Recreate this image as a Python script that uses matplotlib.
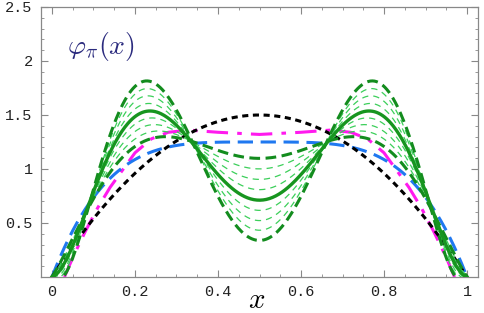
import numpy as np
import matplotlib
matplotlib.use("Agg")
import matplotlib.pyplot as plt
from matplotlib.ticker import MultipleLocator

plt.rcParams["mathtext.fontset"] = "cm"

# Gegenbauer coefficients (a2, a4) of the curves
asy_a2, asy_a4 = 0.0, 0.0            # black dashed (asymptotic)
blue_a2, blue_a4 = 0.111, 0.0         # blue dashed
bms_a2, bms_a4 = 0.188, -0.13         # thick green solid
bound_a2 = [0.235, 0.121]             # thick dark-green dashed bounds
bound_a4 = [-0.225, -0.046]
thin_a2 = [0.223, 0.212, 0.200, 0.171, 0.155, 0.138]   # thin light-green dashed
thin_a4 = [-0.201, -0.178, -0.154, -0.109, -0.088, -0.067]

# magenta dash-dot curve, read point by point
pink_x = [0.03, 0.05, 0.08, 0.11, 0.14, 0.17, 0.20, 0.24, 0.28, 0.33, 0.40, 0.50,
          0.60, 0.67, 0.72, 0.76, 0.80, 0.83, 0.86, 0.89, 0.92, 0.95, 0.97]
pink_y = [0.0, 0.18, 0.42, 0.64, 0.83, 0.99, 1.15, 1.28, 1.34, 1.36, 1.34, 1.32,
          1.34, 1.36, 1.34, 1.28, 1.15, 0.99, 0.83, 0.64, 0.42, 0.18, 0.0]

x_ticks = [0, 0.2, 0.4, 0.6, 0.8, 1]
x_tick_labels = ["0", "0.2", "0.4", "0.6", "0.8", "1"]
y_ticks = [0.5, 1, 1.5, 2, 2.5]
y_tick_labels = ["0.5", "1", "1.5", "2", "2.5"]


def gegen_da(x, a2, a4):
    xi = 2 * x - 1
    c2 = 1.5 * (5 * xi**2 - 1)
    c4 = 15.0 / 8.0 * (21 * xi**4 - 14 * xi**2 + 1)
    return 6 * x * (1 - x) * (1 + a2 * c2 + a4 * c4)


xs = np.linspace(0, 1, 400)

fig = plt.figure(figsize=(4.85, 3.13), dpi=100)
ax = fig.add_axes([41 / 485, 1 - 277 / 313, (478 - 41) / 485, (277 - 7) / 313])

dark_green = "#138c1e"
light_green = "#3ccf5a"

ax.plot(pink_x, pink_y, color="#ff1aee", lw=2.2, dashes=(7, 3, 1.5, 3), zorder=2)
ax.plot(xs, gegen_da(xs, blue_a2, blue_a4), color="#1f78f0", lw=2.2,
        dashes=(5, 2.5), zorder=2)
ax.plot(xs, gegen_da(xs, asy_a2, asy_a4), color="black", lw=2.2,
        dashes=(2, 1.5), zorder=3)
for a2, a4 in zip(thin_a2, thin_a4):
    ax.plot(xs, gegen_da(xs, a2, a4), color=light_green, lw=0.9,
            dashes=(5, 4), zorder=4)
for a2, a4 in zip(bound_a2, bound_a4):
    ax.plot(xs, gegen_da(xs, a2, a4), color=dark_green, lw=2.2,
            dashes=(3.5, 1.8), zorder=5)
ax.plot(xs, gegen_da(xs, bms_a2, bms_a4), color="#17951f", lw=2.4, zorder=5)

ax.set_xlim(-0.0265, 1.0265)
ax.set_ylim(0, 2.5)

ax.set_xticks(x_ticks)
ax.set_xticklabels(x_tick_labels)
ax.set_yticks(y_ticks)
ax.set_yticklabels(y_tick_labels)
ax.xaxis.set_minor_locator(MultipleLocator(0.05))
ax.yaxis.set_minor_locator(MultipleLocator(0.1))

mono = "Liberation Mono"
for lab in ax.get_xticklabels() + ax.get_yticklabels():
    lab.set_fontfamily(mono)
    lab.set_fontsize(11)

ax.tick_params(which="both", direction="in", top=True, right=True,
               color="#888888", labelcolor="#222222")
ax.tick_params(which="major", length=5, width=0.8, pad=6)
ax.tick_params(which="minor", length=2.5, width=0.6)
for s in ax.spines.values():
    s.set_color("#888888")
    s.set_linewidth(0.9)

fig.text(257 / 485, 1 - 300 / 313, r"$x$", fontsize=21, ha="center", va="center")
ax.text(0.036, 2.13, r"$\varphi_\pi(x)$", fontsize=20, color="#2b2b7e",
        ha="left", va="center")

fig.savefig("out.png", dpi=100)
